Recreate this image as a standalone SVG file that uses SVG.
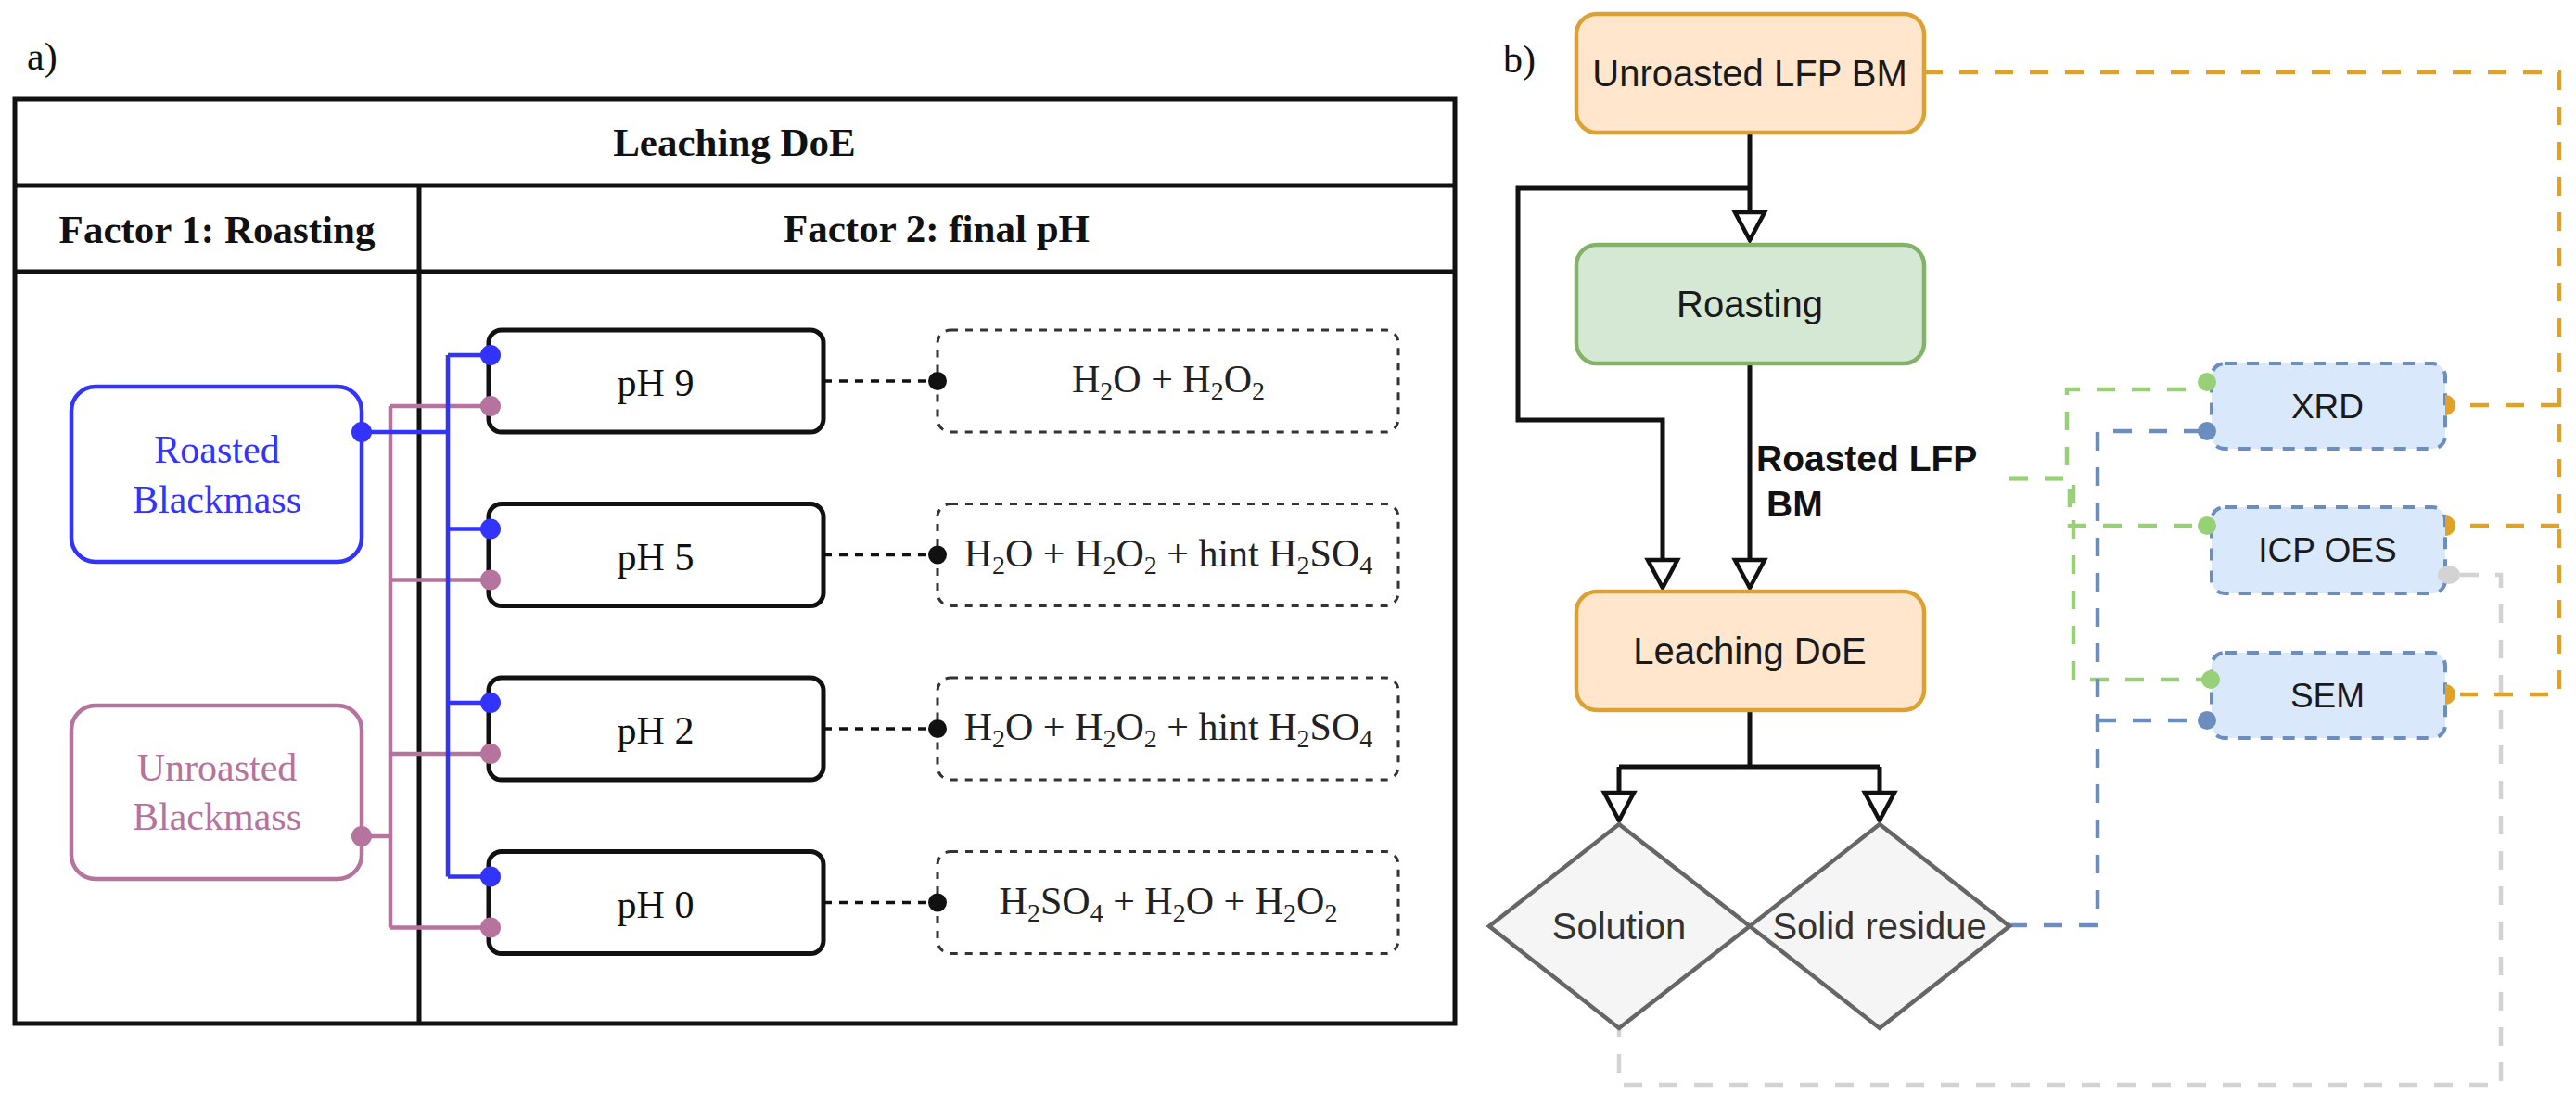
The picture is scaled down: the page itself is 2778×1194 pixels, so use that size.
<svg xmlns="http://www.w3.org/2000/svg" width="2778" height="1194" viewBox="0 0 2778 1194">
<defs>
<style>
.serif{font-family:"Liberation Serif","Times New Roman",serif}
.sans{font-family:"Liberation Sans",Arial,sans-serif}
.tbl{fill:none;stroke:#111;stroke-width:5}
.hdr{font-size:43px;font-weight:bold;fill:#111;text-anchor:middle}
.ph{fill:#fff;stroke:#111;stroke-width:5}
.phtxt{font-size:42px;fill:#111;text-anchor:middle}
.fbox{fill:#fff;stroke:#333;stroke-width:3;stroke-dasharray:8 8}
.ftxt{font-size:42px;fill:#222;text-anchor:middle}
.sub{font-size:28px}
.bm{fill:#fff;stroke-width:4.5}
.bmtxt{font-size:42px;text-anchor:middle}
.blue{fill:none;stroke:#3333ff;stroke-width:4.5}
.pink{fill:none;stroke:#b5739d;stroke-width:4.5}
.dotb{fill:#3333ff}
.dotp{fill:#b5739d}
.dotk{fill:#111}
.dash{fill:none;stroke:#111;stroke-width:3.5;stroke-dasharray:9 8}
.blk{fill:none;stroke:#111;stroke-width:5}
.node{stroke-width:4.5}
.ntxt{font-size:40px;fill:#1a1a1a;text-anchor:middle}
.dia{fill:#f5f5f5;stroke:#666;stroke-width:4.5}
.dtxt{font-size:40px;fill:#333;text-anchor:middle}
.ana{fill:#dae8fc;stroke:#6c8ebf;stroke-width:4;stroke-dasharray:13 11}
.atxt{font-size:37px;fill:#1a1a1a;text-anchor:middle}
.c{fill:none;stroke-width:4.5;stroke-dasharray:20 18}
.cor{stroke:#e0a226}
.cgr{stroke:#97d077}
.cbl{stroke:#6c8ebf}
.cgy{stroke:#d3d3d3}
.lbl{font-size:39px;font-weight:bold;fill:#111}
.pan{font-size:42px;fill:#111}
</style>
<marker id="tri" markerUnits="userSpaceOnUse" markerWidth="44" markerHeight="44" viewBox="-38 -22 44 44" refX="0" refY="0" orient="auto">
<path d="M0,0 L-30,-16 L-30,16 Z" fill="#fff" stroke="#111" stroke-width="4.5"/>
</marker>
</defs>
<rect width="2778" height="1194" fill="#fff"/>

<!-- Panel labels -->
<text class="serif pan" x="29" y="75">a)</text>
<text class="serif pan" x="1621" y="78">b)</text>

<!-- Table -->
<g id="table">
<rect class="tbl" x="16" y="107" width="1553" height="997"/>
<line class="tbl" x1="16" y1="200" x2="1569" y2="200"/>
<line class="tbl" x1="16" y1="293" x2="1569" y2="293"/>
<line class="tbl" x1="452" y1="200" x2="452" y2="1104"/>
<text class="serif hdr" x="792" y="168">Leaching DoE</text>
<text class="serif hdr" x="234" y="262">Factor 1: Roasting</text>
<text class="serif hdr" x="1010" y="261">Factor 2: final pH</text>
</g>

<!-- Part a connectors -->
<g id="connectors-a">
<path class="pink" d="M390,902 H421 M421,438 V1000.5 M421,438 H529 M421,625.5 H529 M421,813 H529 M421,1000.5 H529"/>
<path class="blue" d="M390,466 H483 M483,383 V945.5 M483,383 H529 M483,570.5 H529 M483,758 H529 M483,945.5 H529"/>
<path class="dash" d="M888,411 H1011 M888,598.5 H1011 M888,786 H1011 M888,973.5 H1011"/>
</g>

<g id="roasted-bm">
<rect class="bm" x="77" y="417" width="313" height="189" rx="26" stroke="#3333ff"/>
<text class="serif bmtxt" x="234" y="499" fill="#3333ff">Roasted</text>
<text class="serif bmtxt" x="234" y="553" fill="#3333ff">Blackmass</text>
</g>
<g id="unroasted-bm">
<rect class="bm" x="77" y="761" width="313" height="187" rx="26" stroke="#b5739d"/>
<text class="serif bmtxt" x="234" y="842" fill="#b5739d">Unroasted</text>
<text class="serif bmtxt" x="234" y="895" fill="#b5739d">Blackmass</text>
</g>

<g id="ph9">
<rect class="ph" x="527" y="356" width="361" height="110" rx="14"/>
<text class="serif phtxt" x="707" y="427">pH 9</text>
</g>
<g id="ph5">
<rect class="ph" x="527" y="543.5" width="361" height="110" rx="14"/>
<text class="serif phtxt" x="707" y="614.5">pH 5</text>
</g>
<g id="ph2">
<rect class="ph" x="527" y="731" width="361" height="110" rx="14"/>
<text class="serif phtxt" x="707" y="802">pH 2</text>
</g>
<g id="ph0">
<rect class="ph" x="527" y="918.5" width="361" height="110" rx="14"/>
<text class="serif phtxt" x="707" y="989.5">pH 0</text>
</g>

<g id="f9">
<rect class="fbox" x="1011" y="356" width="497" height="110" rx="14"/>
<text class="serif ftxt" x="1260" y="423">H<tspan class="sub" dy="8">2</tspan><tspan dy="-8">O + H</tspan><tspan class="sub" dy="8">2</tspan><tspan dy="-8">O</tspan><tspan class="sub" dy="8">2</tspan></text>
</g>
<g id="f5">
<rect class="fbox" x="1011" y="543.5" width="497" height="110" rx="14"/>
<text class="serif ftxt" x="1260" y="610.5">H<tspan class="sub" dy="8">2</tspan><tspan dy="-8">O + H</tspan><tspan class="sub" dy="8">2</tspan><tspan dy="-8">O</tspan><tspan class="sub" dy="8">2</tspan><tspan dy="-8"> + hint H</tspan><tspan class="sub" dy="8">2</tspan><tspan dy="-8">SO</tspan><tspan class="sub" dy="8">4</tspan></text>
</g>
<g id="f2">
<rect class="fbox" x="1011" y="731" width="497" height="110" rx="14"/>
<text class="serif ftxt" x="1260" y="798">H<tspan class="sub" dy="8">2</tspan><tspan dy="-8">O + H</tspan><tspan class="sub" dy="8">2</tspan><tspan dy="-8">O</tspan><tspan class="sub" dy="8">2</tspan><tspan dy="-8"> + hint H</tspan><tspan class="sub" dy="8">2</tspan><tspan dy="-8">SO</tspan><tspan class="sub" dy="8">4</tspan></text>
</g>
<g id="f0">
<rect class="fbox" x="1011" y="918.5" width="497" height="110" rx="14"/>
<text class="serif ftxt" x="1260" y="985.5">H<tspan class="sub" dy="8">2</tspan><tspan dy="-8">SO</tspan><tspan class="sub" dy="8">4</tspan><tspan dy="-8"> + H</tspan><tspan class="sub" dy="8">2</tspan><tspan dy="-8">O + H</tspan><tspan class="sub" dy="8">2</tspan><tspan dy="-8">O</tspan><tspan class="sub" dy="8">2</tspan></text>
</g>

<g id="dots-a">
<circle class="dotb" cx="390" cy="466" r="11"/>
<circle class="dotp" cx="390" cy="902" r="11"/>
<circle class="dotb" cx="529" cy="383" r="11"/>
<circle class="dotb" cx="529" cy="570.5" r="11"/>
<circle class="dotb" cx="529" cy="758" r="11"/>
<circle class="dotb" cx="529" cy="945.5" r="11"/>
<circle class="dotp" cx="529" cy="438" r="11"/>
<circle class="dotp" cx="529" cy="625.5" r="11"/>
<circle class="dotp" cx="529" cy="813" r="11"/>
<circle class="dotp" cx="529" cy="1000.5" r="11"/>
<circle class="dotk" cx="1011" cy="411" r="10"/>
<circle class="dotk" cx="1011" cy="598.5" r="10"/>
<circle class="dotk" cx="1011" cy="786" r="10"/>
<circle class="dotk" cx="1011" cy="973.5" r="10"/>
</g>

<!-- Part b connectors -->
<g id="connectors-b">
<path class="c cgy" d="M2653,620 H2697 V1170 H1746 V1108"/>
<path class="c cor" d="M2075,78 H2760 V749 H2653"/>
<path class="c cor" d="M2760,437 H2653"/>
<path class="c cor" d="M2760,567 H2653"/>
<path class="c cgr" d="M2167,516 H2229 V420 H2375"/>
<path class="c cgr" d="M2167,516 H2232 V567 H2381"/>
<path class="c cgr" d="M2167,516 H2236 V733 H2385"/>
<path class="c cbl" d="M2166,998 H2262 V465 H2381"/>
<path class="c cbl" d="M2262,777 H2381"/>
<path class="blk" d="M1887,143 V259" marker-end="url(#tri)"/>
<path class="blk" d="M1887,203 H1637 V453 H1793 V634" marker-end="url(#tri)"/>
<path class="blk" d="M1887,392 V634" marker-end="url(#tri)"/>
<path class="blk" d="M1887,766 V827 M1746,827 H2027"/>
<path class="blk" d="M1746,827 V885" marker-end="url(#tri)"/>
<path class="blk" d="M2027,827 V885" marker-end="url(#tri)"/>
<text class="sans lbl" x="1894" y="508">Roasted LFP</text>
<text class="sans lbl" x="1905" y="557">BM</text>
</g>

<g id="unroasted-lfp">
<rect class="node" x="1700" y="15" width="375" height="128" rx="22" fill="#ffe6cc" stroke="#dda032"/>
<text class="sans ntxt" x="1887" y="93">Unroasted LFP BM</text>
</g>
<g id="roasting">
<rect class="node" x="1700" y="264" width="375" height="128" rx="22" fill="#d5e8d4" stroke="#82b366"/>
<text class="sans ntxt" x="1887" y="342">Roasting</text>
</g>
<g id="leaching">
<rect class="node" x="1700" y="638" width="375" height="128" rx="22" fill="#ffe6cc" stroke="#dda032"/>
<text class="sans ntxt" x="1887" y="716">Leaching DoE</text>
</g>
<g id="solution">
<polygon class="dia" points="1746,889 1887,999 1746,1109 1606,999"/>
<text class="sans dtxt" x="1746" y="1013">Solution</text>
</g>
<g id="solid-residue">
<polygon class="dia" points="2027,889 2167,999 2027,1109 1887,999"/>
<text class="sans dtxt" x="2027" y="1013">Solid residue</text>
</g>
<g id="xrd">
<rect class="ana" x="2385" y="392" width="252" height="92" rx="14"/>
<text class="sans atxt" x="2510" y="451">XRD</text>
</g>
<g id="icp">
<rect class="ana" x="2385" y="547" width="252" height="93" rx="14"/>
<text class="sans atxt" x="2510" y="606">ICP OES</text>
</g>
<g id="sem">
<rect class="ana" x="2385" y="704" width="252" height="92" rx="14"/>
<text class="sans atxt" x="2510" y="763">SEM</text>
</g>

<g id="dots-b">
<circle cx="2380" cy="412" r="10" fill="#97d077"/>
<circle cx="2380" cy="567" r="10" fill="#97d077"/>
<circle cx="2384" cy="733" r="10" fill="#97d077"/>
<circle cx="2380" cy="465" r="10" fill="#6c8ebf"/>
<circle cx="2380" cy="777" r="10" fill="#6c8ebf"/>
<path d="M2637,426 A11,11 0 0 1 2637,448 Z" fill="#e0a226"/>
<path d="M2637,556 A11,11 0 0 1 2637,578 Z" fill="#e0a226"/>
<path d="M2637,738 A11,11 0 0 1 2637,760 Z" fill="#e0a226"/>
<ellipse cx="2641" cy="620" rx="12" ry="10" fill="#d3d3d3"/>
</g>
</svg>
